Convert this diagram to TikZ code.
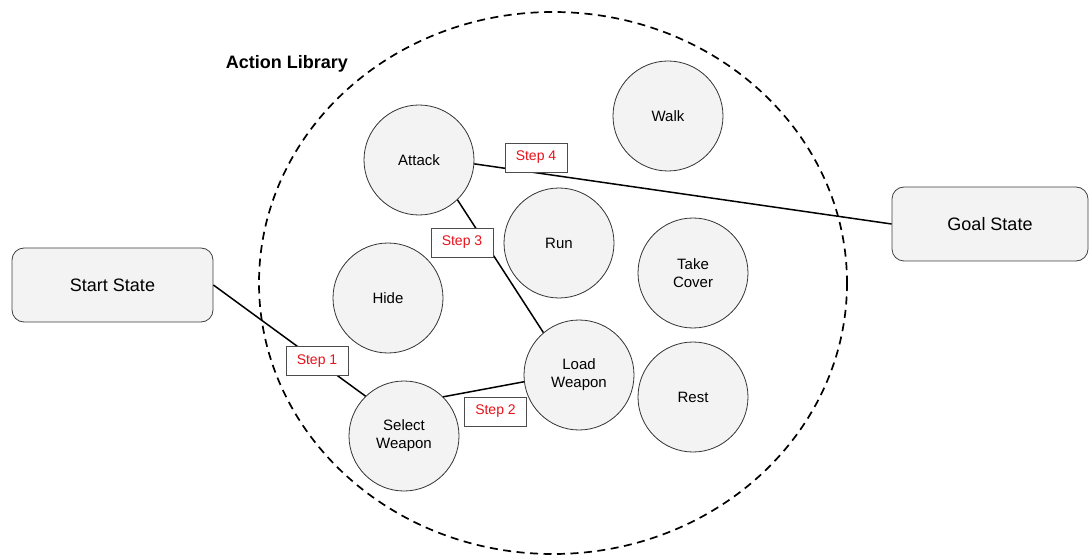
\documentclass[tikz,border=0pt]{standalone}
\usepackage{fontspec}
\setmainfont{Liberation Sans}
\definecolor{actfill}{HTML}{F3F3F3}
\definecolor{stepred}{HTML}{E8121B}
\begin{document}
\begin{tikzpicture}[x=1pt, y=-1pt,
    action/.style={circle, draw=black!80, line width=0.8pt, fill=actfill, minimum size=110pt, inner sep=0pt, align=center, font=\fontsize{15}{18}\selectfont},
    state/.style={rectangle, rounded corners=12pt, draw=black!75, line width=0.8pt, fill=actfill, font=\fontsize{18}{21}\selectfont},
    steplabel/.style={rectangle, draw=black!70, line width=0.8pt, fill=white, text=stepred, minimum width=62pt, minimum height=29pt, inner sep=0pt, font=\fontsize{14}{16}\selectfont},
    link/.style={line width=1.5pt, black}]
  \useasboundingbox (0,0) rectangle (1090,556);
  % action library
  \draw[line width=1.7pt, dash pattern=on 8pt off 5.5pt] (553,283) ellipse [x radius=294, y radius=271];
  \node[font=\bfseries\fontsize{18}{21}\selectfont] (lib) at (287,64) {Action Library};
  % states
  \node[state, minimum width=201pt, minimum height=74pt] (start) at (112.5,285) {Start State};
  \node[state, minimum width=196pt, minimum height=74pt] (goal) at (990,224) {Goal State};
  % actions
  \node[action] (attack) at (419,160) {Attack};
  \node[action] (walk) at (668,116) {Walk};
  \node[action] (run) at (559,243) {Run};
  \node[action] (hide) at (388,298) {Hide};
  \node[action] (cover) at (693,273) {Take\\Cover};
  \node[action] (load) at (579,375) {Load\\Weapon};
  \node[action] (rest) at (693,397) {Rest};
  \node[action] (select) at (404,436) {Select\\Weapon};
  % plan
  \draw[link] (start.east) -- (select.134);
  \draw[link] (select.45) -- (load.187);
  \draw[link] (load.130) -- (attack.-46);
  \draw[link] (attack.-4) -- (goal.west);
  \node[steplabel] (s1) at (317,361) {Step 1};
  \node[steplabel] (s2) at (495.5,411.5) {Step 2};
  \node[steplabel] (s3) at (462,242.5) {Step 3};
  \node[steplabel] (s4) at (536,157.5) {Step 4};
\end{tikzpicture}
\end{document}
